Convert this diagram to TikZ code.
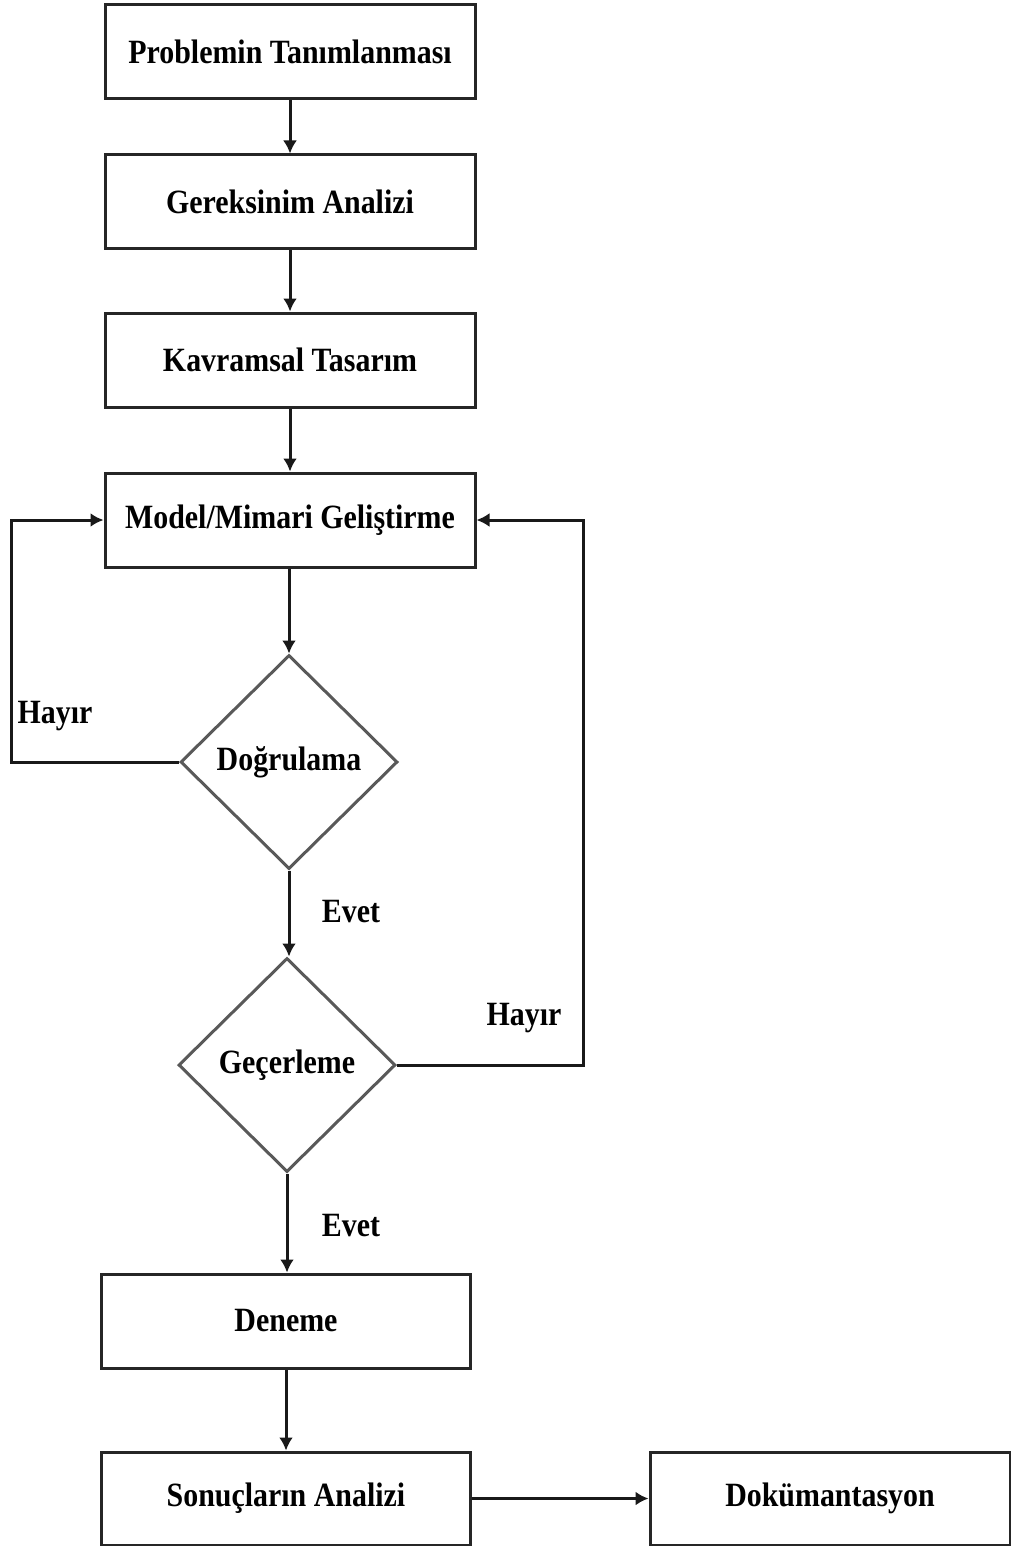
\documentclass[tikz,border=0pt]{standalone}
\usepackage{fontspec}
\setmainfont{Liberation Serif}[FakeStretch=0.88]
\usetikzlibrary{shapes.geometric,arrows.meta}
\newcommand\flowfont{\fontsize{34}{38}\selectfont\bfseries}
\begin{document}
\begin{tikzpicture}[x=1pt,y=-1pt,
  box/.style={draw=black!85, line width=3pt, minimum width=370pt, minimum height=94pt, inner sep=0pt, font=\flowfont},
  dia/.style={diamond, draw=black!65, line width=3pt, minimum width=217pt, minimum height=214pt, inner sep=0pt, font=\flowfont},
  conn/.style={line width=3pt, draw=black!90, -{Latex[length=13pt,width=14pt]}},
  lab/.style={font=\flowfont, inner sep=0pt}]
\path[use as bounding box] (0,0) rectangle (1011,1546);

% process steps
\node[box] (p1) at (290,52) {Problemin Tanımlanması};
\node[box] (p2) at (290,202) {Gereksinim Analizi};
\node[box] (p3) at (290,360) {Kavramsal Tasarım};
\node[box] (p4) at (290,520) {Model/Mimari Geliştirme};
\node[dia] (d1) at (289,762) {Doğrulama};
\node[dia] (d2) at (287,1065) {Geçerleme};
\node[box, minimum width=369pt] (p5) at (286,1321) {Deneme};
\node[box, minimum width=369pt, minimum height=93pt] (p6) at (286,1498.5) {Sonuçların Analizi};
\node[box, minimum width=360pt, minimum height=93pt] (p7) at (830,1498.5) {Dokümantasyon};

% loop-back rails
\coordinate (lw) at (11,0);
\coordinate (rw) at (583,0);

% connectors
\draw[conn] (p1) -- (p2);
\draw[conn] (p2) -- (p3);
\draw[conn] (p3) -- (p4);
\draw[conn] (d1.north |- p4.south) -- (d1.north);
\draw[conn] (d1.south) -- (d1.south |- d2.north);
\draw[conn] (d2.south) -- (d2.south |- p5.north);
\draw[conn] (p5) -- (p6);
\draw[conn] (p6) -- (p7);
\draw[conn] (d1.west) -- (d1.west -| lw) -- (lw |- p4.west) -- (p4.west);
\draw[conn] (d2.east) -- (d2.east -| rw) -- (rw |- p4.east) -- (p4.east);

% branch labels
\node[lab] (h1) at (55,716) {Hayır};
\node[lab] (e1) at (351,912) {Evet};
\node[lab] (h2) at (524,1018) {Hayır};
\node[lab] (e2) at (351,1226) {Evet};
\end{tikzpicture}
\end{document}
